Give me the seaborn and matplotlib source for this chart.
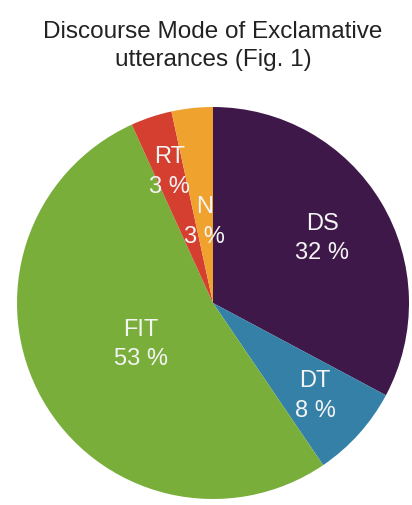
import matplotlib
matplotlib.use("Agg")
import matplotlib.pyplot as plt
import seaborn as sns
import numpy as np

# Discourse mode shares (clockwise from 12 o'clock)
modes = ['DS', 'DT', 'FIT', 'RT', 'N']
shares = [32.8, 7.7, 52.7, 3.4, 3.4]
pct_labels = ['32 %', '8 %', '53 %', '3 %', '3 %']
colors = ['#3e1849', '#3580a7', '#79ae3b', '#d43f2f', '#f0a22f']

sns.set_theme(style='white')
plt.rcParams['font.family'] = ['Liberation Sans', 'DejaVu Sans']

fig = plt.figure(figsize=(4.12, 5.06), dpi=100)
ax = fig.add_axes([17 / 412, 6 / 506, 392 / 412, 392 / 506])

wedges, _ = ax.pie(shares, colors=sns.color_palette(colors), startangle=90,
                   counterclock=False, radius=1,
                   wedgeprops=dict(linewidth=0))
ax.set_xlim(-1, 1)
ax.set_ylim(-1, 1)
ax.set_aspect('equal')
ax.axis('off')

# label distance from centre, per slice
dist = [0.65, 0.70, 0.42, 0.71, 0.42]
for w, m, p, d in zip(wedges, modes, pct_labels, dist):
    ang = np.deg2rad((w.theta1 + w.theta2) / 2)
    ax.text(d * np.cos(ang), d * np.sin(ang), f'{m}\n{p}', ha='center', va='center',
            color='#f4f4f4', fontsize=17, linespacing=1.45)

fig.text(0.517, 1 - 46 / 506, 'Discourse Mode of Exclamative\nutterances (Fig. 1)',
         ha='center', va='center', fontsize=17.5, color='#222222', linespacing=1.38)

fig.savefig('out.png', dpi=100)
